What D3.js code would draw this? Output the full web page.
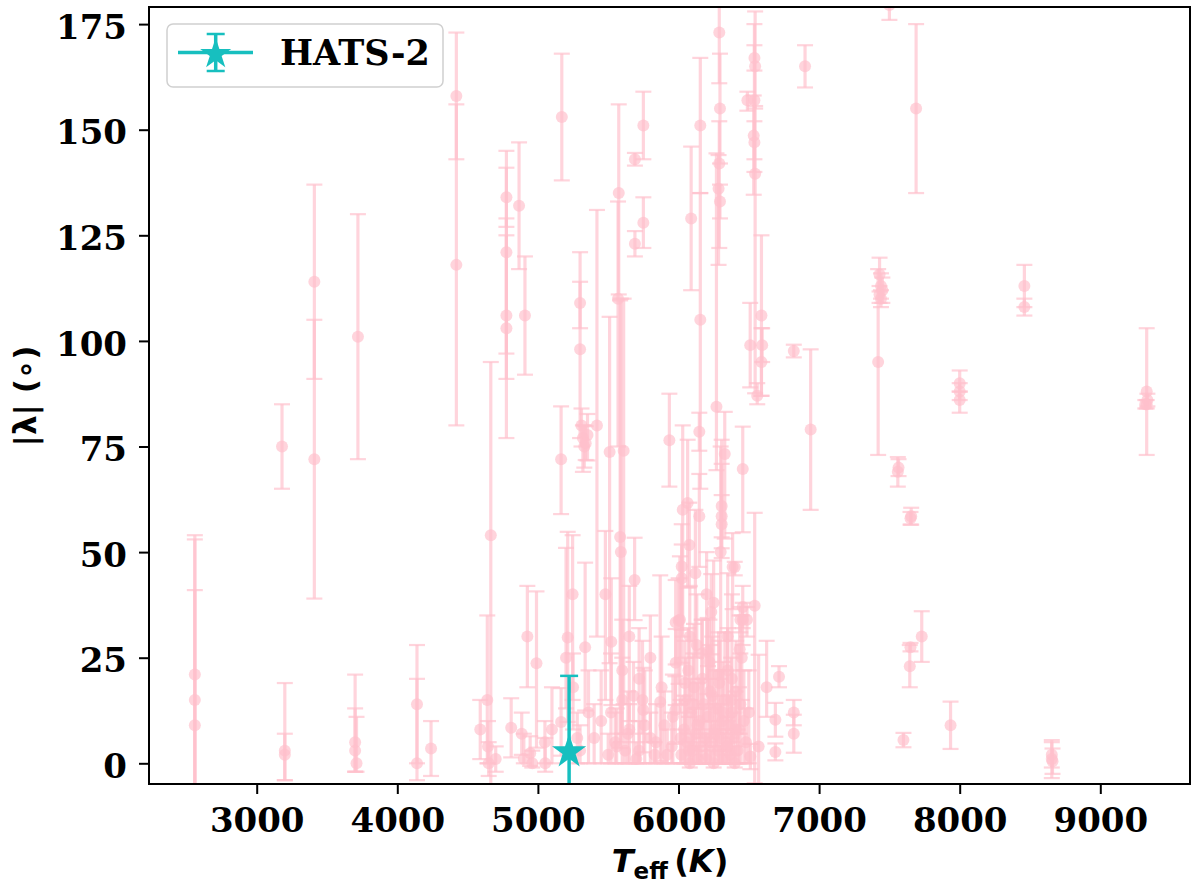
<!DOCTYPE html>
<html><head><meta charset="utf-8">
<script src="https://cdn.jsdelivr.net/npm/d3@7"></script>
<style>body{margin:0;background:#fff}svg{display:block}</style>
</head><body>
<svg id="c" width="1200" height="889"></svg>
<script>
// ---- data ----
const teff = [
2560,2560,2560,3180,3200,3200,3410,3410,3700,3700,3710,3720,4140,4140,4240,4420,4420,4590,4640,4645,4650,4665,4700,
4776,4776,4776,4776,4866,4908,5170,5300,5300,5310,5320,5330,5420,5575,5570,5585,5590,5510,5610,5690,5690,5750,5750,
5165,5353,5340,5935,6065,5688,5247,6023,6023,6010,
6090,6155,6155,6290,6295,6290,6285,6295,6270,6490,6540,6545,6540,6535,6540,6545,6560,6590,6595,6590,6510,6820,6940,6900,
7500,7690,7430,7440,7450,7430,7440,7420,7560,7565,7655,7650,7730,7650,7645,7600,7935,8000,8000,8000,8460,8460,8655,8655,8660,
9330,9330,9335,9320,
6148,6329,6457,6148,6307,6307,6307,6077,6385,6400,6457,6457,6542,6487,6233,6001,6207,5980,6627,6715,6689,6820,6820,5978,6570,6511,6689,5952,6440,
4810,4885,4945,5052,5165,5212,5200,5336,4990,4925,5522,5750,5870,5980,5744,5050,5100,5300,5400,5450,5500,5550,5600,5620,5650,5700,5720,5800,5830,5900,4900,4960,5250,5280,5360,5480,5650,
6020,6040,6050,6060,6070,6080,6090,6100,6110,6120,6130,6140,6150,6160,6170,6180,6190,6200,6210,6220,6230,6240,6250,6260,6270,6280,6290,6300,6310,6320,6330,6340,6350,6360,6370,6380,6390,6400,6410,6420,6430,6440,6450,
6080,6200,6120,6250,6350,6480,6500,6030,6300,6380,
5520,5560,5600,5640,5680,5720,5760,5800,5840,5880,5920,5960,
6015,6045,6075,6105,6135,6165,6195,6225,6255,6285,6315,6345,6375,6405,6435,6465
];
const lam = [
21,15,9,75,3,2,114,72,5,3,0,101,14,0,3.5,158,118,8,15,4,0,54,1,
134,121,106,103,132,106,153,109,98,80,77,75,80,135,110,53.6,50,73.7,74,143,123,151,128,
72,77.7,75.8,76.5,61.6,43.4,40,46.6,43.8,34,
129,151,105,173,155,142,136,133,84.4,157,167,165,157,148.6,147,139.6,87,106,99,95,99,97.6,79,165,
179.5,155,115.7,113,112,111,110,95,69,70,58.5,58,30,27.5,23,5.5,9,90,88,86,113,108,2,1,0.5,
88,85,86,85,
78.5,73.2,69.7,58.5,60.9,58.5,56.6,51.7,46.5,46.5,37,34,37.3,34,35.8,33.8,26.4,23.8,18,20.5,10.3,12,7,12.6,4,1.6,2.7,4,34,
8.4,7,2.4,0,9.8,29.8,25,27.5,23.7,30,28.8,12.6,14.5,33.4,15,5,8,3,6,10,2,5,15,3,8,1,20,6,2,9,1,0,18,6,12,40,30,
2,8,15,5,22,0,12,3,18,7,28,1,10,4,20,14,6,2,11,24,5,16,0,8,13,3,19,6,10,1,15,4,22,9,2,12,6,0,17,3,8,14,25,
30,40,45,38,30,5,12,60,50,20,
12,4,22,7,16,3,9,25,5,18,2,11,
6,19,3,14,9,26,1,17,7,21,12,4,15,8,27,10
];
const errLow = [
33,25,20,10,7,6,23,33,7,5,2,29,14,4,6.5,15,38,7,15,4,3,60,3,
7,30,9,26,15,14,15,6,21,5,8,5,50,24,35,50,45,50,60,1.5,3,8,6,
13,6,4,11,20,9.5,25,15,20,20,
17,16,40,12,13,20,18,4,15,2.5,3,10,17,14,4,52,2,19,4,8,10,1.5,19,5,
3.5,20,4,3,3,2,2,22,3.5,2,2,1.5,6,1,5,1.7,5.6,2,2,3,5,2,3,4.5,3,
15,1,1.5,1,
4.5,20,15,12,10,5,8,10,10,2,5,6,42,4,10,15,10,10,7,2.5,4,3,4.5,8,10,3,2,4,3,
7,5,3,2,8,20,12,15,20,12,15,10,14,10,8,5,8,3,6,10,2,5,15,3,8,1,20,6,2,9,1,1,10,6,12,25,20,
2,8,10,5,10,1,12,3,15,7,15,1,10,4,12,10,6,2,8,14,5,10,1,8,9,3,12,6,10,1,12,4,15,9,2,10,6,1,10,3,8,14,10,
15,20,20,25,20,5,12,30,30,15,
12,4,15,7,16,3,9,20,5,18,2,11,
6,19,3,14,9,20,1,17,7,21,12,4,15,8,20,10
];
const errHigh = [
32,39,32,10,16,5,23,33,16,10,11,29,14,20,6.5,15,38,7,20,6,5,41,3,
11,20,19,26,15,14,15,12,16,4,3,5,51,21,23,56,60,32,36,1.5,3,8,6,
12.5,5,4,11,15,10,14,10,8,15,
17,16,30,12,13,10,8,4,60,2,8,13,13,9.5,5,16,3,19,4,8,10,1.5,19,5,
3.5,20,4,3,3,2,2,22,3.5,2,2,1.5,6,1,5,1.7,5.6,3,2,2,5,2,3,4.5,3,
15,1,1.5,1,
4.5,10,10,10,10,5,20,10,8,1.2,5,4,22,3,9,10,8,8,11,2.5,4,3,4.5,8,21.7,3,2,8,3,
7,5,4,6,8,25,26,20,17,12,15,10,30,10,14,5,10,6,8,12,5,7,10,4,6,4,12,6,3,8,6,3,8,6,10,15,12,
6,8,10,10,10,5,8,4,15,6,12,3,10,6,14,6,8,3,12,10,5,14,4,6,9,5,10,8,12,2,16,4,10,7,4,10,6,4,12,5,10,12,10,
12,10,15,10,15,8,10,20,25,20,
14,9,12,10,8,7,13,10,9,12,6,10,
9,10,8,12,10,8,6,11,9,10,12,7,10,9,8,12
];
const hatsTeff = [5222];
const hatsLam = [2.7];
const hatsLow = [18];
const hatsHigh = [18];
const xTicks = [3000,4000,5000,6000,7000,8000,9000];
const yTicks = [0,25,50,75,100,125,150,175];
const legendLabel = "HATS-2";

// ---- layout ----
const L = 149, R = 1190, T = 7, B = 784;
const x = d3.scaleLinear().domain([2234, 9638]).range([L, R]);
const y = d3.scaleLinear().domain([-4.9, 179.05]).range([B, T]);
const svg = d3.select("#c");
const PINK = "#ffc0cb", TEAL = "#17bfbf", A = 0.68;

svg.append("defs").append("clipPath").attr("id","clip")
  .append("rect").attr("x",L).attr("y",T).attr("width",R-L).attr("height",B-T);

const pts = teff.map((t,i)=>({t, l:lam[i], lo:errLow[i], hi:errHigh[i]}));
const hats = hatsTeff.map((t,i)=>({t, l:hatsLam[i], lo:hatsLow[i], hi:hatsHigh[i]}));

const plot = svg.append("g").attr("clip-path","url(#clip)");

// pink error bars
const g = plot.append("g");
g.selectAll("line.bar").data(pts).join("line").attr("class","bar")
  .attr("x1",d=>x(d.t)).attr("x2",d=>x(d.t))
  .attr("y1",d=>y(d.l-d.lo)).attr("y2",d=>y(d.l+d.hi))
  .attr("stroke",PINK).attr("stroke-opacity",A).attr("stroke-width",3.2);
const caps = [];
pts.forEach(d=>{caps.push({t:d.t,v:d.l-d.lo});caps.push({t:d.t,v:d.l+d.hi});});
g.selectAll("line.cap").data(caps).join("line").attr("class","cap")
  .attr("x1",d=>x(d.t)-8).attr("x2",d=>x(d.t)+8)
  .attr("y1",d=>y(d.v)).attr("y2",d=>y(d.v))
  .attr("stroke",PINK).attr("stroke-opacity",A).attr("stroke-width",2.2);
g.selectAll("circle").data(pts).join("circle")
  .attr("cx",d=>x(d.t)).attr("cy",d=>y(d.l)).attr("r",6)
  .attr("fill",PINK).attr("fill-opacity",A);

// HATS-2 error bar and star (on top)
const hb = plot.append("g");
hats.forEach(d=>{
  hb.append("line").attr("x1",x(d.t)).attr("x2",x(d.t))
    .attr("y1",y(d.l-d.lo)).attr("y2",y(d.l+d.hi))
    .attr("stroke",TEAL).attr("stroke-width",3.5);
  [d.l-d.lo, d.l+d.hi].forEach(v=>{
    hb.append("line").attr("x1",x(d.t)-9).attr("x2",x(d.t)+9)
      .attr("y1",y(v)).attr("y2",y(v)).attr("stroke",TEAL).attr("stroke-width",2.5);
  });
});
const star = d3.symbol().type(d3.symbolStar).size(364);
plot.selectAll("path.hstar").data(hats).join("path").attr("class","hstar")
  .attr("d",star).attr("transform",d=>`translate(${x(d.t)},${y(d.l)})`)
  .attr("fill",TEAL);

// axes
const fontTick = "'DejaVu Serif', serif";
const xa = svg.append("g").attr("transform",`translate(0,${B})`)
  .call(d3.axisBottom(x).tickValues(xTicks).tickFormat(d3.format("d")).tickSize(10).tickPadding(14));
const ya = svg.append("g").attr("transform",`translate(${L},0)`)
  .call(d3.axisLeft(y).tickValues(yTicks).tickFormat(d3.format("d")).tickSize(10).tickPadding(12));
[xa,ya].forEach(a=>{
  a.select(".domain").remove();
  a.selectAll(".tick line").attr("stroke","#000").attr("stroke-width",2);
  a.selectAll(".tick text").attr("fill","#000").style("font-family",fontTick)
    .style("font-weight","bold").style("font-size","34px");
});
ya.selectAll(".tick text").attr("dy","0.42em");

svg.append("rect").attr("x",L).attr("y",T).attr("width",R-L).attr("height",B-T)
  .attr("fill","none").attr("stroke","#000").attr("stroke-width",2);

// axis labels
const xl = svg.append("text").attr("x",670).attr("y",872).attr("text-anchor","middle")
  .style("font-family","'DejaVu Sans', sans-serif").style("font-weight","bold").style("font-size","32px");
xl.append("tspan").style("font-style","italic").text("T");
xl.append("tspan").attr("dy",7).style("font-size","23px").text("eff");
xl.append("tspan").attr("dy",-7).text("\u2009(");
xl.append("tspan").style("font-style","italic").text("K");
xl.append("tspan").text(")");

svg.append("text").attr("transform","translate(36,396) rotate(-90)").attr("text-anchor","middle")
  .style("font-family","'DejaVu Sans', sans-serif").style("font-weight","bold").style("font-size","31px")
  .text("|\u03bb| (\u2218)");

// legend
const lg = svg.append("g");
lg.append("rect").attr("x",167).attr("y",24).attr("width",276).attr("height",63).attr("rx",6)
  .attr("fill","#fff").attr("fill-opacity",0.8).attr("stroke","#d0d0d0").attr("stroke-width",1.5);
lg.append("line").attr("x1",178).attr("x2",253).attr("y1",52.5).attr("y2",52.5)
  .attr("stroke",TEAL).attr("stroke-width",3.5);
lg.append("line").attr("x1",215.7).attr("x2",215.7).attr("y1",34).attr("y2",71)
  .attr("stroke",TEAL).attr("stroke-width",3.5);
[34,71].forEach(v=>lg.append("line").attr("x1",206.7).attr("x2",224.7).attr("y1",v).attr("y2",v)
  .attr("stroke",TEAL).attr("stroke-width",2.5));
lg.append("path").attr("d",d3.symbol().type(d3.symbolStar).size(300)).attr("transform","translate(215.7,54)")
  .attr("fill",TEAL);
lg.append("text").attr("x",280).attr("y",65).text(legendLabel)
  .style("font-family",fontTick).style("font-weight","bold").style("font-size","35px");
</script>
</body></html>
